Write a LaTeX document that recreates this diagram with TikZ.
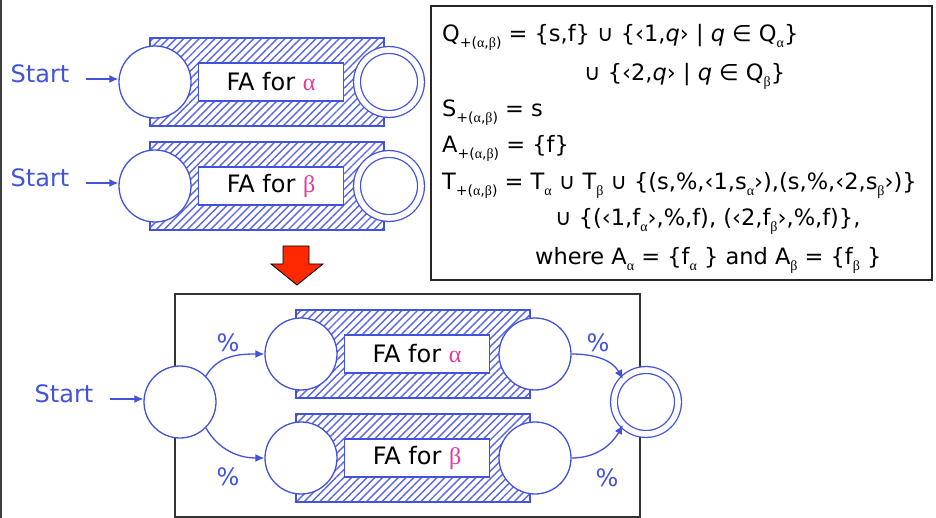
\documentclass[tikz,border=0pt]{standalone}
\usepackage{fontspec}
\setmainfont{DejaVu Sans}
\newfontfamily\grk{Liberation Serif}
\usepackage{tikz}
\usetikzlibrary{arrows,arrows.meta,patterns.meta}
\definecolor{fablue}{RGB}{66,82,218}
\definecolor{fapink}{RGB}{228,58,158}
\definecolor{hatchblue}{RGB}{90,102,230}
\definecolor{arrowred}{RGB}{255,40,0}
\newcommand{\gal}{{\grk α}}
\newcommand{\gbe}{{\grk β}}
\newcommand{\lowtext}[1]{\raisebox{-0.45ex}{\fontsize{14}{14}\selectfont #1}}

\begin{document}
\begin{tikzpicture}[x=1pt,y=1pt,
		state/.style={circle,draw=fablue,fill=white,line width=1.3pt,minimum size=72pt,inner sep=0pt},
		accept/.style={state,minimum size=64pt,double=white,double distance=5.6pt},
		hatchbox/.style={draw=fablue,line width=1.2pt,pattern={Lines[angle=45,distance=5.5pt,line width=1.4pt]},pattern color=hatchblue,minimum width=234pt,minimum height=88pt,inner sep=0pt},
		fabox/.style={draw=fablue,fill=white,line width=1.2pt,minimum width=145pt,minimum height=38pt,inner sep=0pt,font=\fontsize{24}{28}\selectfont},
		bluetext/.style={text=fablue,inner sep=0pt,font=\fontsize{24}{28}\selectfont},
		startarr/.style={-{Latex[length=9pt,width=8pt]},draw=fablue,line width=1.3pt},
		trans/.style={-{Latex[length=9pt,width=8pt]},draw=fablue,line width=1.3pt},
		rule/.style={anchor=base west,inner sep=0pt,font=\fontsize{22.5}{28}\selectfont}]
			\useasboundingbox (0,0) rectangle (936,-518);
			\draw[line width=1.6pt,black!75] (0.8,0) -- (0.8,-518);
			\draw[line width=1.2pt,black!80] (175,-294) rectangle (640,-517);
			\foreach \nm/\x/\y/\g/\st in {a1/150/82/\gal/accept, b1/150/186/\gbe/accept, a2/296/354/\gal/state, b2/296/458/\gbe/state} {
				\node[hatchbox] (h\nm) at (\x+117,-\y) {};
				\node[state] (\nm-in) at (\x+5,-\y) {};
				\node[\st] (\nm-out) at (\x+239,-\y) {};
				\node[fabox] (fa\nm) at (\x+121,-\y) {FA for {\color{fapink}\g}};
			}
			\node[bluetext] (sa1) at (40,-74) {Start};
			\node[bluetext] (sb1) at (40,-178) {Start};
			\node[bluetext] (s0) at (64,-394) {Start};
			\draw[startarr] ([xshift=16pt,yshift=-5pt]sa1.east) -- ([yshift=3pt]a1-in.west);
			\draw[startarr] ([xshift=16pt,yshift=-5pt]sb1.east) -- ([yshift=3pt]b1-in.west);
			\node[state] (s) at (180,-402) {};
			\node[accept] (f) at (646,-402) {};
			\draw[startarr] ([xshift=16pt,yshift=-5pt]s0.east) -- ([yshift=3pt]s.west);
			\draw[trans] (s.45) to[out=60,in=180] (a2-in.west);
			\draw[trans] (s.-45) to[out=-60,in=180] (b2-in.west);
			\draw[trans] (a2-out.east) to[out=0,in=120] (f.135);
			\draw[trans] (b2-out.east) to[out=0,in=-120] (f.-135);
			\node[bluetext] (p1) at (228,-343) {\%};
			\node[bluetext] (p2) at (228,-477) {\%};
			\node[bluetext] (p3) at (598,-343) {\%};
			\node[bluetext] (p4) at (607,-478) {\%};
			\draw[fill=arrowred,line width=0.8pt] (283,-246) -- (309,-246) -- (309,-264) -- (323,-264) -- (297,-285) -- (271,-264) -- (283,-264) -- cycle;
			\draw[line width=1.2pt,black!85] (431,-6) rectangle (932,-280);
			\node[rule] (q1) at (442,-42) {Q\lowtext{+(\gal,\gbe)} = \{s,f\} ∪ \{‹1,\textit{q}› | \textit{q} ∈ Q\lowtext{\gal}\}};
			\node[rule] (q2) at (584,-81) {∪ \{‹2,\textit{q}› | \textit{q} ∈ Q\lowtext{\gbe}\}};
			\node[rule] (sl) at (442,-117) {S\lowtext{+(\gal,\gbe)} = s};
			\node[rule] (al) at (442,-153) {A\lowtext{+(\gal,\gbe)} = \{f\}};
			\node[rule] (t1) at (442,-190) {T\lowtext{+(\gal,\gbe)} = T\lowtext{\gal} ∪ T\lowtext{\gbe} ∪ \{(s,\%,‹1,s\lowtext{\gal}›),(s,\%,‹2,s\lowtext{\gbe}›)\}};
			\node[rule] (t2) at (555,-226) {∪ \{(‹1,f\lowtext{\gal}›,\%,f), (‹2,f\lowtext{\gbe}›,\%,f)\},};
			\node[rule] (wh) at (535,-265) {where A\lowtext{\gal} = \{f\lowtext{\gal} \} and A\lowtext{\gbe} = \{f\lowtext{\gbe} \}};
		\end{tikzpicture}
\end{document}
